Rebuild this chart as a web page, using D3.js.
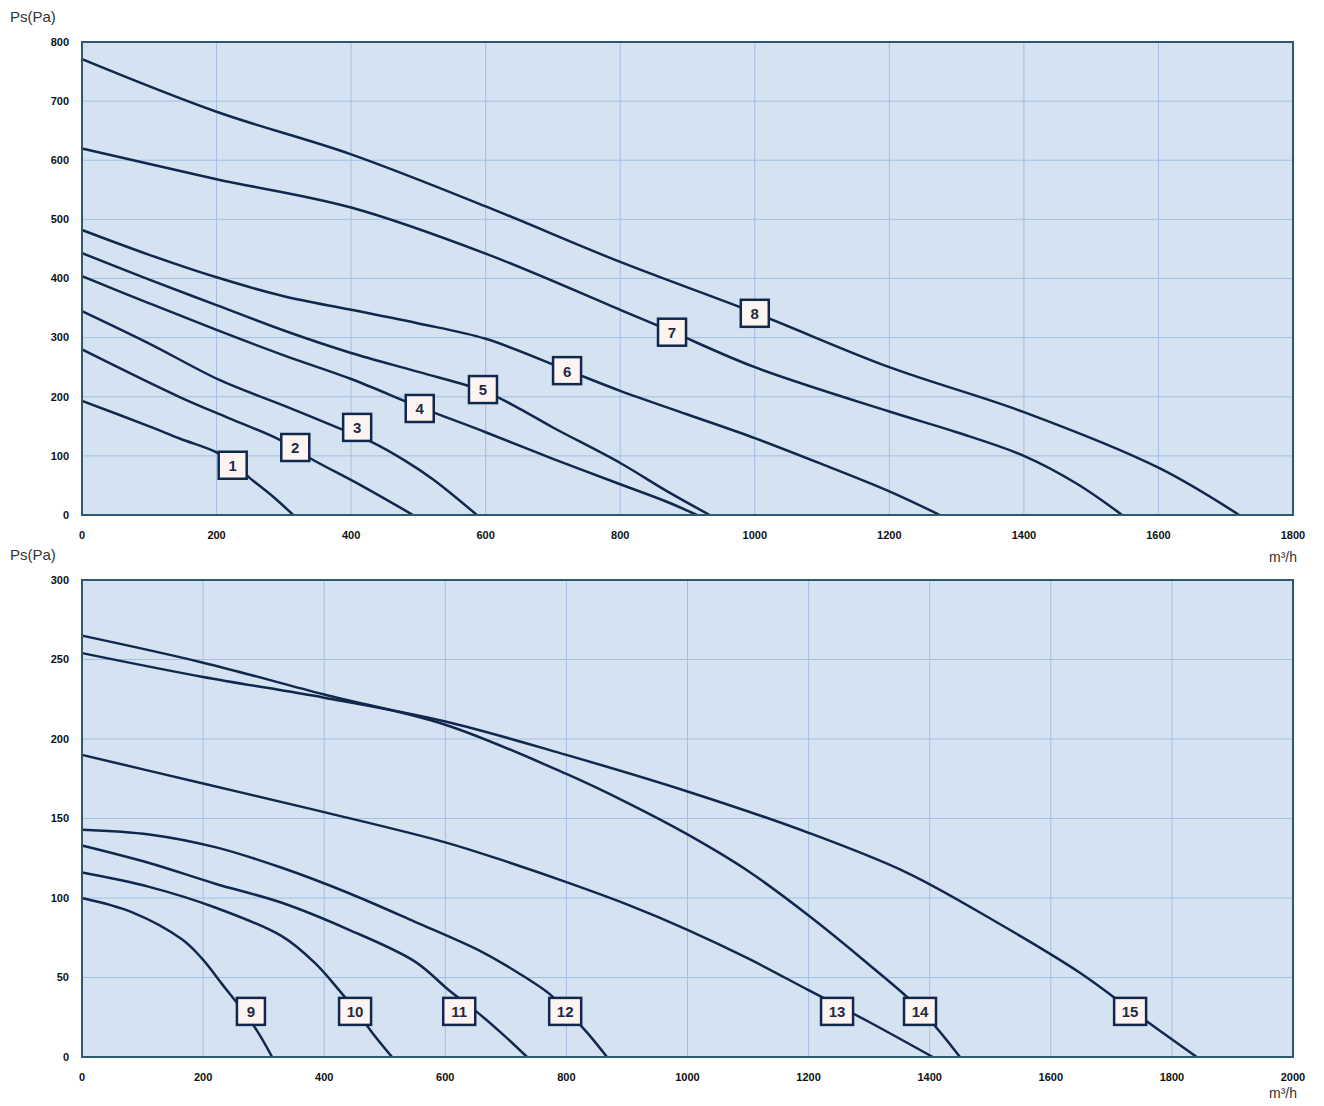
<!DOCTYPE html>
<html>
<head>
<meta charset="utf-8">
<script src="https://cdn.jsdelivr.net/npm/d3@7"></script>
<style>
  body { margin: 0; background: #fff; }
  text { font-family: "Liberation Sans", Arial, sans-serif; }
</style>
</head>
<body>
<script>
// top chart: curves 1-8, x in m3/h, y in Pa
var topCurves = [
  [[0,193],[100,150],[146,129],[200,106],[224,88],[250,62],[285,30],[314,0]],
  [[0,280],[146,199],[220,163],[294,127],[339,96],[418,48],[492,0]],
  [[0,345],[100,290],[205,228],[300,185],[388,144],[428,125],[480,92],[522,60],[587,0]],
  [[0,404],[100,358],[200,313],[300,270],[400,230],[503,182],[600,140],[700,95],[800,52],[870,22],[914,0]],
  [[0,443],[100,398],[200,355],[300,312],[400,274],[500,242],[597,210],[650,180],[700,148],[800,88],[870,40],[933,0]],
  [[0,482],[100,440],[200,402],[300,370],[400,347],[500,324],[600,298],[721,245],[800,210],[900,170],[1000,130],[1100,86],[1200,40],[1275,0]],
  [[0,620],[200,568],[400,520],[600,442],[800,347],[877,310],[1000,250],[1200,175],[1300,140],[1400,100],[1480,52],[1546,0]],
  [[0,771],[200,682],[400,610],[600,522],[800,428],[1000,342],[1200,250],[1400,174],[1600,80],[1720,0]]
];
var topLabels = ["1","2","3","4","5","6","7","8"];
var topLabelX = [224, 317, 409, 502, 596, 721, 877, 1000];
var topLabelY = [85, 115, 149, 181, 213, 245, 310, 342];
var topXTicks = [0,200,400,600,800,1000,1200,1400,1600,1800];
var topYTicks = [0,100,200,300,400,500,600,700,800];

// bottom chart: curves 9-15
var botCurves = [
  [[0,100],[83,91],[165,74],[198,62],[231,46],[260,32],[290,16],[314,0]],
  [[0,116],[111,107],[220,94],[330,76],[385,59],[429,40],[451,30],[480,15],[512,0]],
  [[0,133],[111,122],[220,109],[330,97],[441,80],[550,60],[606,42],[650,29],[690,16],[735,0]],
  [[0,143],[111,140],[220,132],[330,119],[441,103],[550,85],[661,66],[720,53],[771,40],[798,30],[835,15],[867,0]],
  [[0,190],[200,172],[400,154],[600,135],[700,123],[800,110],[900,96],[1000,80],[1100,62],[1200,42],[1300,22],[1405,0]],
  [[0,265],[200,248],[400,228],[600,209],[800,178],[900,160],[1000,140],[1100,117],[1200,89],[1300,58],[1384,30],[1450,0]],
  [[0,254],[200,239],[400,226],[600,211],[800,190],[1000,167],[1200,141],[1362,116],[1505,86],[1648,53],[1731,30],[1841,0]]
];
var botLabels = ["9","10","11","12","13","14","15"];
var botLabelX = [279, 451, 623, 798, 1247, 1384, 1731];
var botLabelY = [29, 29, 29, 29, 29, 29, 29];
var botXTicks = [0,200,400,600,800,1000,1200,1400,1600,1800,2000];
var botYTicks = [0,50,100,150,200,250,300];

var svg = d3.select("body").append("svg")
  .attr("width", 1324).attr("height", 1106);

function drawChart(cfg){
  var x = d3.scaleLinear().domain([0, cfg.xMax]).range([cfg.left, cfg.right]);
  var y = d3.scaleLinear().domain([0, cfg.yMax]).range([cfg.bottom, cfg.top]);
  var g = svg.append("g");

  g.append("rect")
    .attr("x", cfg.left).attr("y", cfg.top)
    .attr("width", cfg.right - cfg.left).attr("height", cfg.bottom - cfg.top)
    .attr("fill", "#d4e2f2");

  // grid
  g.selectAll(".vg").data(cfg.xTicks).enter().append("line")
    .attr("x1", d => x(d)).attr("x2", d => x(d))
    .attr("y1", cfg.top).attr("y2", cfg.bottom)
    .attr("stroke", "#a3c0e2").attr("stroke-width", 1);
  g.selectAll(".hg").data(cfg.yTicks).enter().append("line")
    .attr("x1", cfg.left).attr("x2", cfg.right)
    .attr("y1", d => y(d)).attr("y2", d => y(d))
    .attr("stroke", "#a3c0e2").attr("stroke-width", 1);

  // curves
  var line = d3.line().x(d => x(d[0])).y(d => y(d[1])).curve(d3.curveCatmullRom.alpha(0.5));
  g.selectAll(".curve").data(cfg.curves).enter().append("path")
    .attr("d", line)
    .attr("fill", "none")
    .attr("stroke", "#11284d")
    .attr("stroke-width", 2.5);

  // frame
  g.append("rect")
    .attr("x", cfg.left).attr("y", cfg.top)
    .attr("width", cfg.right - cfg.left).attr("height", cfg.bottom - cfg.top)
    .attr("fill", "none").attr("stroke", "#2b5a74").attr("stroke-width", 2);

  // labels on curves
  var lab = g.selectAll(".lab").data(cfg.labels).enter().append("g")
    .attr("transform", (d,i) => "translate(" + x(cfg.labelX[i]) + "," + y(cfg.labelY[i]) + ")");
  lab.append("rect")
    .attr("x", d => d.length > 1 ? -16 : -14).attr("y", -13)
    .attr("width", d => d.length > 1 ? 32 : 28).attr("height", 27)
    .attr("fill", "#fdf4f2").attr("stroke", "#11284d").attr("stroke-width", 2.5);
  lab.append("text")
    .attr("text-anchor", "middle").attr("y", 1).attr("dy", "0.36em")
    .attr("font-size", 15).attr("font-weight", "bold")
    .attr("fill", "#1d2c44")
    .text(d => d);

  // tick labels
  g.selectAll(".xt").data(cfg.xTicks).enter().append("text")
    .attr("x", d => x(d)).attr("y", cfg.bottom + 24)
    .attr("text-anchor", "middle")
    .attr("font-size", 11).attr("font-weight", "bold").attr("fill", "#111")
    .text(d => d);
  g.selectAll(".yt").data(cfg.yTicks).enter().append("text")
    .attr("x", cfg.left - 13).attr("y", d => y(d)).attr("dy", "0.35em")
    .attr("text-anchor", "end")
    .attr("font-size", 11).attr("font-weight", "bold").attr("fill", "#111")
    .text(d => d);

  g.append("text")
    .attr("x", 10).attr("y", cfg.top - 20)
    .attr("font-size", 15).attr("fill", "#333")
    .text("Ps(Pa)");
  g.append("text")
    .attr("x", cfg.right + 4).attr("y", cfg.unitY)
    .attr("text-anchor", "end")
    .attr("font-size", 14).attr("fill", "#333")
    .text("m³/h");
}

drawChart({
  left: 82, right: 1293, top: 42, bottom: 515, unitY: 562,
  xMax: 1800, yMax: 800,
  xTicks: topXTicks, yTicks: topYTicks,
  curves: topCurves, labels: topLabels, labelX: topLabelX, labelY: topLabelY
});
drawChart({
  left: 82, right: 1293, top: 580, bottom: 1057, unitY: 1098,
  xMax: 2000, yMax: 300,
  xTicks: botXTicks, yTicks: botYTicks,
  curves: botCurves, labels: botLabels, labelX: botLabelX, labelY: botLabelY
});
</script>
</body>
</html>
